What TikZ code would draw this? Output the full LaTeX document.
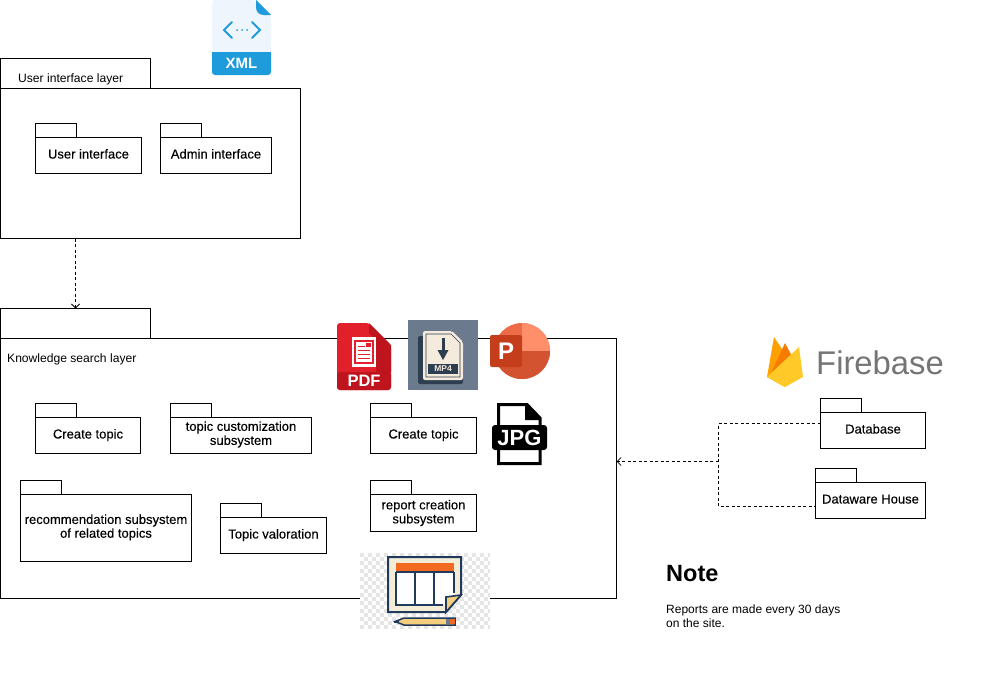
\documentclass[tikz,border=0pt]{standalone}
\usepackage{fontspec}
\usetikzlibrary{arrows.meta}
\setmainfont{Liberation Sans}
\newfontfamily\pkgfont[FakeBold=0.25]{Liberation Sans}
\definecolor{xmlblue}{HTML}{1E9BDB}
\definecolor{xmlpale}{HTML}{EFF5FD}
\definecolor{pdfred}{HTML}{E2202B}
\definecolor{pdfdark}{HTML}{BE141D}
\definecolor{mpgrey}{HTML}{6B7A8C}
\definecolor{mpdark}{HTML}{2C3E50}
\definecolor{mpcream}{HTML}{F5EBDC}
\definecolor{pptlight}{HTML}{FF8F6B}
\definecolor{pptmid}{HTML}{ED6C47}
\definecolor{pptlow}{HTML}{D35230}
\definecolor{pptbox}{HTML}{C43E1C}
\definecolor{navy}{HTML}{1F3A5C}
\definecolor{sheet}{HTML}{F3EDD8}
\definecolor{barorange}{HTML}{F26B21}
\definecolor{foldyellow}{HTML}{F6CF7E}
\definecolor{fireamber}{HTML}{FFA000}
\definecolor{fireorange}{HTML}{F57C00}
\definecolor{fireyellow}{HTML}{FFCA28}
\definecolor{firegrey}{HTML}{757575}
\tikzset{
    pkgbody/.style = {draw = black, line width = 1pt, inner sep = 0pt, outer sep = 0pt, align = center, anchor = north west, font = \pkgfont\fontsize{13}{14}\selectfont},
    oneline/.style = {text height = 9pt, text depth = 3pt},
    pkgtab/.style = {draw = black, line width = 1pt, inner sep = 0pt, outer sep = 0pt, anchor = south west, minimum width = 41, minimum height = 14},
    layertext/.style = {anchor = west, inner sep = 0pt, font = \fontsize{12.1}{14}\selectfont},
    dep/.style = {dashed, dash pattern = on 3pt off 2.5pt, line width = 0.8pt, -{Straight Barb[length = 4pt, width = 8pt]}}
}
\begin{document}
\begin{tikzpicture}[x = 1pt, y = -1pt, shift = {(0.5, 0.5)}]
        \useasboundingbox (-0.5, -0.5) rectangle (980.5, 674.5);

        % layers
        \node[pkgbody, minimum width = 300, minimum height = 150] (uilayer) at (0, 88) {};
        \node[pkgtab, minimum width = 150, minimum height = 30] (uitab) at (uilayer.north west) {};
        \node[layertext] (uilabel) at (17.5, 79) {User interface layer};
        \node[pkgbody, minimum width = 616, minimum height = 260] (kslayer) at (0, 338) {};
        \node[pkgtab, minimum width = 150, minimum height = 30] (kstab) at (kslayer.north west) {};
        \node[layertext] (kslabel) at (6.5, 359) {Knowledge search layer};

        % packages
        \node[pkgbody, oneline, minimum width = 106, minimum height = 36] (userif) at (35, 137) {User interface};
        \node[pkgtab] (useriftab) at (userif.north west) {};
        \node[pkgbody, oneline, minimum width = 111, minimum height = 36] (adminif) at (160, 137) {Admin interface};
        \node[pkgtab] (adminiftab) at (adminif.north west) {};
        \node[pkgbody, oneline, minimum width = 105, minimum height = 36] (topic) at (35, 417) {Create topic};
        \node[pkgtab] (topictab) at (topic.north west) {};
        \node[pkgbody, text depth = 4.7pt, minimum width = 141, minimum height = 36] (custom) at (170, 417) {topic customization\\subsystem};
        \node[pkgtab] (customtab) at (custom.north west) {};
        \node[pkgbody, oneline, minimum width = 106, minimum height = 36] (topicb) at (370, 417) {Create topic};
        \node[pkgtab] (topicbtab) at (topicb.north west) {};
        \node[pkgbody, minimum width = 171, minimum height = 67] (recom) at (20, 494) {\raisebox{6pt}{\begin{tabular}{@{}c@{}}recommendation subsystem\\[-0.2pt]of related topics\end{tabular}}};
        \node[pkgtab] (recomtab) at (recom.north west) {};
        \node[pkgbody, oneline, minimum width = 106, minimum height = 36] (valor) at (220, 517) {Topic valoration};
        \node[pkgtab] (valortab) at (valor.north west) {};
        \node[pkgbody, minimum width = 106, minimum height = 37] (report) at (370, 494) {report creation\\subsystem};
        \node[pkgtab] (reporttab) at (report.north west) {};
        \node[pkgbody, oneline, minimum width = 105, minimum height = 36] (database) at (820, 412) {Database};
        \node[pkgtab] (databasetab) at (database.north west) {};
        \node[pkgbody, oneline, minimum width = 110, minimum height = 36] (dwh) at (815, 482) {Dataware House};
        \node[pkgtab] (dwhtab) at (dwh.north west) {};

        % connectors
        \coordinate (busj) at (718, 461);
        \coordinate (dbport) at (820, 423);
        \coordinate (dwhport) at (815, 506);
        \draw[dep] (kstab.north |- uilayer.south) -- (kstab.north);
        \draw[dep, -] (dbport) -- (busj |- dbport) -- (busj |- dwhport) -- (dwhport);
        \draw[dep] (busj) -- (kslayer.east |- busj);

        % note
        \node[anchor = west, inner sep = 0pt, font = \fontsize{23.5}{26}\selectfont\bfseries] (notehead) at (665.5, 573) {Note};
        \node[anchor = north west, inner sep = 0pt, align = left, font = \fontsize{12}{14}\selectfont] (notetext) at (665.5, 604) {Reports are made every 30 days\\on the site.};

        \begin{scope}[shift = {(-0.5, -0.5)}]
        % xml icon
        \fill[xmlpale, rounded corners = 3pt] (212, 0) -- (255, 0) -- (271, 16) -- (271, 60) -- (212, 60) -- cycle;
        \fill[xmlblue, rounded corners = 3pt] (212, 52) rectangle (271, 75);
        \fill[xmlblue] (212, 52) rectangle (271, 60);
        \fill[xmlblue] (256, 0) -- (271, 15) -- (264, 15) .. controls (259, 15) and (256, 12) .. (256, 7) -- cycle;
        \draw[xmlblue, line width = 2pt, line cap = round] (232, 22) -- (224, 30) -- (232, 38) (252, 22) -- (260, 30) -- (252, 38);
        \foreach \dotx in {237, 242, 247} {
            \fill[xmlblue] (\dotx, 30) circle (1pt);
        }
        \node[text = white, inner sep = 0pt, font = \fontsize{15}{15}\selectfont\bfseries] (xmltext) at (241.5, 63) {XML};

        % pdf icon
        \fill[pdfred, rounded corners = 3pt] (337, 323) -- (369, 323) -- (391, 345) -- (391, 390) -- (337, 390) -- cycle;
        \fill[pdfdark] (369, 323) -- (391, 345) -- (391, 372) -- (376, 372) -- (376, 340) -- (369, 333) -- cycle;
        \fill[pdfdark, rounded corners = 3pt] (337, 372) rectangle (391, 390);
        \fill[white] (352, 337) rectangle (376, 367);
        \fill[pdfred] (354, 340) rectangle (374, 364);
        \fill[white] (356, 342) rectangle (372, 362);
        \draw[pdfred, line width = 1pt] (358, 346) -- (365, 346) (358, 350) -- (370, 350) (358, 354) -- (370, 354) (358, 358) -- (370, 358);
        \fill[pdfred] (366, 343) rectangle (371, 347);
        \node[text = white, inner sep = 0pt, font = \fontsize{16.5}{16}\selectfont\bfseries] (pdftext) at (364, 381) {PDF};

        % mp4 icon
        \fill[mpgrey] (408, 320) rectangle (478, 390);
        \fill[mpdark, rounded corners = 2pt] (418, 336) -- (450, 336) -- (463, 350) -- (463, 384) -- (418, 384) -- cycle;
        \fill[mpcream, rounded corners = 2pt] (423, 331) -- (452, 331) -- (463, 342) -- (463, 380) -- (423, 380) -- cycle;
        \draw[mpdark, line width = 0.7pt] (426, 334) -- (451, 334) -- (460, 343) -- (460, 377) -- (426, 377) -- cycle;
        \fill[mpdark] (428, 364) rectangle (458, 374);
        \fill[mpdark] (441.5, 338) rectangle (444.5, 350);
        \fill[mpdark] (437.5, 350) -- (448.5, 350) -- (443, 360) -- cycle;
        \node[text = mpcream, inner sep = 0pt, font = \fontsize{8.5}{9}\selectfont\bfseries] (mptext) at (443, 369) {MP4};

        % powerpoint icon
        \fill[pptmid] (522, 351) circle (28pt);
        \fill[pptlight] (522, 351) -- (522, 323) arc[start angle = 90, end angle = 0, radius = 28pt] -- cycle;
        \fill[pptlow] (522, 351) -- (550, 351) arc[start angle = 0, end angle = -180, radius = 28pt] -- cycle;
        \fill[pptbox, rounded corners = 2pt] (490, 335) rectangle (522, 367);
        \node[text = white, inner sep = 0pt, font = \fontsize{24}{24}\selectfont\bfseries] (ppttext) at (506, 351) {P};

        % jpg icon
        \draw[black, fill = white, line width = 3pt] (498.5, 404.5) -- (527, 404.5) -- (540, 418) -- (540, 463.5) -- (498.5, 463.5) -- cycle;
        \fill[black] (525, 404) -- (541, 420) -- (525, 420) -- cycle;
        \fill[black, rounded corners = 3pt] (492, 425) rectangle (547, 450);
        \node[text = white, inner sep = 0pt, font = \fontsize{22}{22}\selectfont\bfseries] (jpgtext) at (519.5, 437.5) {JPG};

        % report icon
        \fill[white] (360, 553) rectangle (490, 628);
        \begin{scope}
        \clip (360, 553) rectangle (490, 628);
        \foreach \cellx in {0, ..., 32} {
            \foreach \celly in {0, ..., 18} {
                \pgfmathparse{int(mod(\cellx + \celly, 2))}
                \ifnum\pgfmathresult=0
                    \fill[black!10] (360 + 4 * \cellx, 553 + 4 * \celly) rectangle +(4, 4);
                \fi
            }
        }
        \end{scope}
        \draw[navy, fill = sheet, line width = 2pt] (388, 557) -- (461, 557) -- (461, 595) -- (446, 612) -- (388, 612) -- cycle;
        \fill[white] (396, 572) rectangle (454, 604);
        \fill[barorange] (396, 563) rectangle (454, 572);
        \draw[navy, line width = 1.8pt] (396, 572) -- (454, 572) (396, 572) -- (396, 605) -- (443, 605) (415, 572) -- (415, 605) (434, 572) -- (434, 605) (454, 572) -- (454, 593);
        \draw[navy, fill = foldyellow, line width = 1.6pt] (446, 612) -- (446, 597) -- (461, 595) -- cycle;
        \draw[navy, fill = foldyellow, line width = 1.5pt] (404, 618) -- (455, 618) -- (455, 625) -- (404, 625) -- (395, 621.5) -- cycle;
        \fill[barorange] (450, 619) rectangle (454.5, 624);
        \fill[mpgrey] (446, 619) rectangle (450, 624);
        \fill[navy] (394, 620.5) rectangle (399, 622.5);

        % firebase logo
        \fill[fireamber] (767, 377) -- (774, 337) -- (788, 358) -- (785, 387) -- cycle;
        \fill[fireorange] (771, 373) -- (785, 343) -- (793, 358) -- cycle;
        \fill[fireyellow] (767, 377) -- (799, 347) -- (803, 377) -- (785, 387) -- cycle;
        \node[text = firegrey, inner sep = 0pt, anchor = west, font = \fontsize{32.8}{34}\selectfont] (fbtext) at (816, 363) {Firebase};
        \end{scope}

    \end{tikzpicture}
\end{document}
